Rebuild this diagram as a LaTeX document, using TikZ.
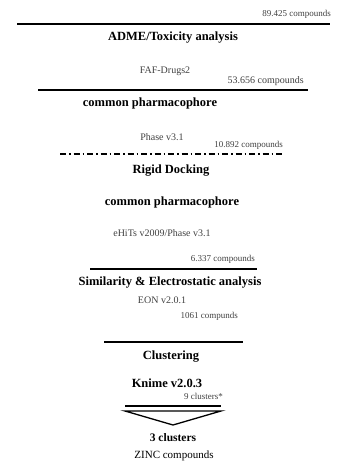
\documentclass[tikz,border=0pt]{standalone}
\usepackage{fontspec}
\setmainfont{Liberation Serif}
\begin{document}
\begin{tikzpicture}[x=1pt, y=-1pt,
  title/.style={font=\fontsize{12.5}{14}\selectfont\bfseries, inner sep=0pt},
  tool/.style={font=\fontsize{10}{12}\selectfont, text=black!75, inner sep=0pt},
  count/.style={font=\fontsize{9}{11}\selectfont, text=black!75, inner sep=0pt, anchor=east},
  rule/.style={draw=black, line width=1.6pt}]
\useasboundingbox (0,0) rectangle (338,463);
% funnel steps
\node[count] (c89) at (331,14) {89.425 compounds};
\coordinate (l1a) at (17,24);
\coordinate (l1b) at (330,24);
\node[title] (adme) at (173,38) {ADME/Toxicity analysis};
\node[tool] (faf) at (165,71) {FAF-Drugs2};
\node[count, font=\fontsize{10}{12}\selectfont] (c53) at (304,81) {53.656 compounds};
\coordinate (l2a) at (38,90);
\coordinate (l2b) at (308,90);
\node[title] (pharm1) at (150,103) {common pharmacophore};
\node[tool] (phase) at (162,137) {Phase v3.1};
\node[count] (c10) at (283,145) {10.892 compounds};
\coordinate (l3a) at (60,154);
\coordinate (l3b) at (285,154);
\node[title] (rigid) at (171,171) {Rigid Docking};
\node[title] (pharm2) at (172,202) {common pharmacophore};
\node[tool] (ehits) at (162,233) {eHiTs v2009/Phase v3.1};
\node[count] (c6) at (255,259) {6.337 compounds};
\coordinate (l4a) at (90,269);
\coordinate (l4b) at (257,269);
\node[title] (sim) at (170,283) {Similarity \& Electrostatic analysis};
\node[tool] (eon) at (162,300) {EON v2.0.1};
\node[count] (c1061) at (238,316) {1061 compunds};
\coordinate (l5a) at (104,342);
\coordinate (l5b) at (243,342);
\node[title] (clust) at (171,357) {Clustering};
\node[title] (knime) at (167,383) {Knime v2.0.3};
\node[count] (c9) at (223,396) {9 clusters*};
\coordinate (l6a) at (125,406);
\coordinate (l6b) at (221,406);
\coordinate (t1) at (125,411);
\coordinate (t2) at (221,411);
\coordinate (tip) at (173,425);
\node[title, font=\fontsize{11.5}{13}\selectfont\bfseries] (three) at (173,438) {3 clusters};
\node[inner sep=0pt, font=\fontsize{11}{13}\selectfont] (zinc) at (174,456) {ZINC compounds};
% rules
\path [rule] (l1a) edge (l1b);
\path [rule] (l2a) edge (l2b);
\path [rule, dash pattern=on 6pt off 3pt on 1.5pt off 3pt] (l3a) edge (l3b);
\path [rule] (l4a) edge (l4b);
\path [rule] (l5a) edge (l5b);
\path [rule] (l6a) edge (l6b);
\draw [line width=1.3pt, line join=miter] (t1) -- (t2) -- (tip) -- cycle;
\end{tikzpicture}
\end{document}
